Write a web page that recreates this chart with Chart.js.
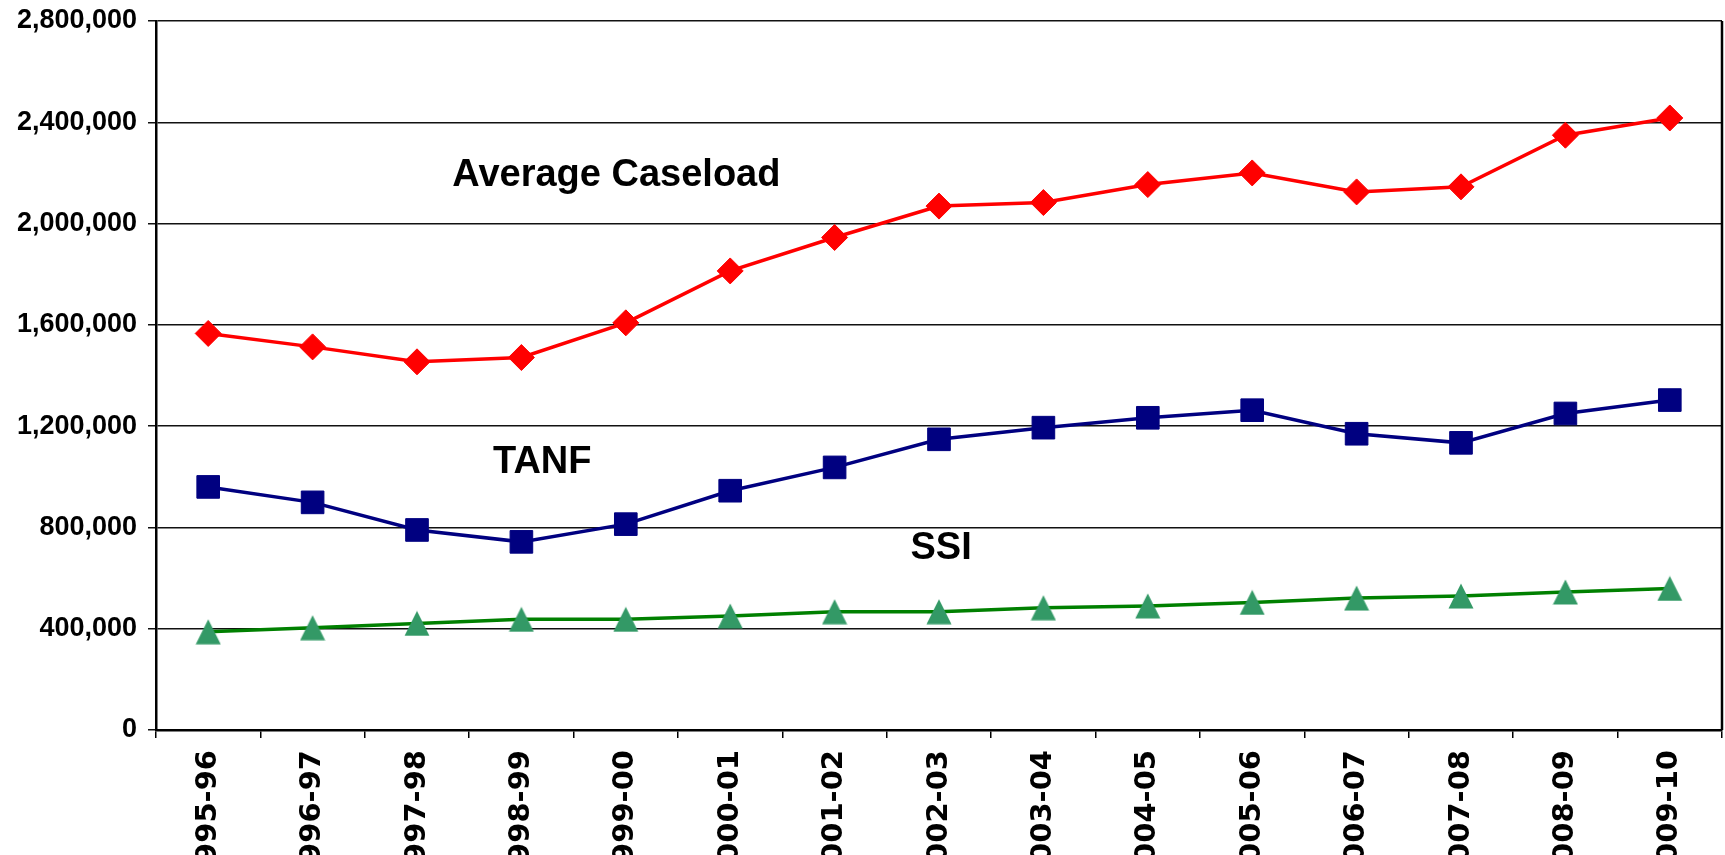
<!DOCTYPE html>
<html>
<head>
<meta charset="utf-8">
<script src="https://cdn.jsdelivr.net/npm/chart.js@4/dist/chart.umd.min.js"></script>
<style>
  html, body { margin: 0; padding: 0; background: #ffffff; overflow: hidden; }
  #wrap { width: 1725px; height: 855px; position: relative; overflow: hidden; }
  #c { display: block; }
</style>
</head>
<body>
<div id="wrap"><canvas id="c"></canvas></div>
<script>
const categories = ["1995-96","1996-97","1997-98","1998-99","1999-00","2000-01","2001-02","2002-03","2003-04","2004-05","2005-06","2006-07","2007-08","2008-09","2009-10"];
const averageCaseload = [1566000,1513000,1454000,1471000,1608000,1813000,1945000,2069000,2083000,2154000,2200000,2125000,2145000,2349000,2417000];
const tanf = [960000,899000,790000,743000,813000,945000,1037000,1148000,1194000,1233000,1263000,1170000,1134000,1250000,1303000];
const ssi = [388000,404000,421000,437000,437000,450000,467000,467000,483000,490000,504000,521000,529000,545000,559000];
const yTicks = [0,400000,800000,1200000,1600000,2000000,2400000,2800000];
const seriesLabels = ["Average Caseload","TANF","SSI"];
// annotation anchors in data coordinates (category index, value)
const labelX = [3.91, 3.20, 7.02];
const labelY = [2191000, 1055000, 717000];

const FONT = '"Liberation Sans", Arial, sans-serif';

// triangle marker centred on its bounding box (as in the original)
function makeTriangle(size, color) {
  const c = document.createElement('canvas');
  c.width = size; c.height = size;
  const g = c.getContext('2d');
  g.fillStyle = color;
  g.beginPath();
  g.moveTo(size / 2, 0.5);
  g.lineTo(size - 0.5, size - 0.5);
  g.lineTo(0.5, size - 0.5);
  g.closePath();
  g.fill();
  return c;
}
const triMarker = makeTriangle(26, '#339966');

const framePlugin = {
  id: 'frame',
  beforeDatasetsDraw(chart) {
    const {ctx, chartArea} = chart;
    ctx.save();
    ctx.strokeStyle = '#000';
    ctx.lineWidth = 2.5;
    ctx.beginPath();
    ctx.moveTo(chartArea.right, chartArea.top);
    ctx.lineTo(chartArea.right, chartArea.bottom);
    ctx.stroke();
    ctx.restore();
  }
};

const textLabels = {
  id: 'textLabels',
  afterDatasetsDraw(chart) {
    const ctx = chart.ctx;
    const xs = chart.scales.x, ys = chart.scales.y;
    ctx.save();
    ctx.fillStyle = '#000';
    ctx.font = 'bold 38px ' + FONT;
    ctx.textAlign = 'center';
    ctx.textBaseline = 'middle';
    seriesLabels.forEach((t, i) => {
      ctx.fillText(t, xs.getPixelForValue(labelX[i]), ys.getPixelForValue(labelY[i]));
    });
    ctx.restore();
  }
};

new Chart(document.getElementById('c'), {
  type: 'line',
  data: {
    labels: categories,
    datasets: [
      {
        label: seriesLabels[0], data: averageCaseload,
        borderColor: '#ff0000', backgroundColor: '#ff0000', borderWidth: 3.5,
        pointStyle: 'rectRot', pointRadius: 13, pointHoverRadius: 13, pointBorderWidth: 1,
        pointBackgroundColor: '#ff0000', pointBorderColor: '#ff0000', tension: 0
      },
      {
        label: seriesLabels[1], data: tanf,
        borderColor: '#000080', backgroundColor: '#000080', borderWidth: 3.5,
        pointStyle: 'rect', pointRadius: 16, pointHoverRadius: 16, pointBorderWidth: 1,
        pointBackgroundColor: '#000080', pointBorderColor: '#000080', tension: 0
      },
      {
        label: seriesLabels[2], data: ssi,
        borderColor: '#008000', backgroundColor: '#339966', borderWidth: 3.5,
        pointStyle: triMarker, pointRadius: 14, pointHoverRadius: 14,
        pointBackgroundColor: '#339966', pointBorderColor: '#339966', tension: 0
      }
    ]
  },
  options: {
    responsive: true,
    maintainAspectRatio: false,
    animation: false,
    layout: { autoPadding: false, padding: { top: 21, right: 3, left: 0, bottom: 0 } },
    plugins: {
      legend: { display: false },
      tooltip: { enabled: false },
      title: { display: false }
    },
    scales: {
      x: {
        type: 'category',
        offset: true,
        grid: {
          display: true, offset: true, drawOnChartArea: false, drawTicks: true,
          tickLength: 8, color: '#000', lineWidth: 1.5
        },
        border: { display: true, color: '#000', width: 2.5 },
        ticks: {
          color: '#000', font: { family: '"DejaVu Sans", ' + FONT, size: 29, weight: 'bold' },
          maxRotation: 90, minRotation: 90, padding: 12, autoSkip: false
        },
        afterFit(axis) { axis.height = 125; axis.paddingLeft = 0; axis.paddingRight = 0; }
      },
      y: {
        min: 0, max: 2800000,
        afterBuildTicks(axis) { axis.ticks = yTicks.map(v => ({ value: v })); },
        grid: { color: '#111', lineWidth: 1.5, drawTicks: true, tickLength: 8 },
        border: { display: true, color: '#000', width: 2.5 },
        ticks: {
          color: '#000', font: { family: FONT, size: 27, weight: 'bold' }, padding: 11,
          callback: (v) => Number(v).toLocaleString('en-US')
        },
        afterFit(axis) { axis.width = 156; axis.paddingTop = 0; axis.paddingBottom = 0; }
      }
    }
  },
  plugins: [framePlugin, textLabels]
});
</script>
</body>
</html>
